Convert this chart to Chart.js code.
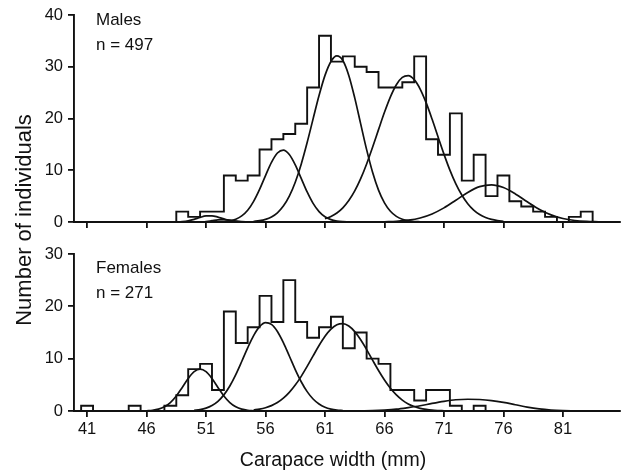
<!DOCTYPE html>
<html>
<head>
<meta charset="utf-8">
<title>Carapace width frequencies</title>
<script src="https://cdn.jsdelivr.net/npm/chart.js@4.4.1/dist/chart.umd.min.js"></script>
<style>
  html, body { margin: 0; padding: 0; background: #fff; }
  #wrap { position: relative; width: 624px; height: 474px; }
  #wrap canvas { position: absolute; left: 0; top: 0; }
</style>
</head>
<body>
<div id="wrap">
  <canvas id="chart-males" width="624" height="474"></canvas>
  <canvas id="chart-females" width="624" height="474"></canvas>
</div>
<script>
/* ---------- data ---------- */
// 1 mm bins, centred on whole millimetres 40..85
const binMm = [40,41,42,43,44,45,46,47,48,49,50,51,52,53,54,55,56,57,58,59,60,61,62,
               63,64,65,66,67,68,69,70,71,72,73,74,75,76,77,78,79,80,81,82,83,84,85];
const maleCounts = [0,0,0,0,0,0,0,0,0,2,1,2,2,9,8,9,14,16,17,19,26,36,31,
                    32,30,29,26,26,27,32,16,13,21,8,13,5,9,4,3,2,1,0,1,2,0,0];
const femaleCounts = [0,1,0,0,0,1,0,0,1,3,8,9,4,19,13,16,22,17,25,17,14,16,18,
                      12,15,10,9,4,4,2,4,4,1,0,1,0,0,0,0,0,0,0,0,0,0,0];
const xTicks = [41,46,51,56,61,66,71,76,81];

// fitted normal components, [mm, count] pairs
const maleFitA = [[48,0],[48.5,0.03],[49,0.09],[49.5,0.24],[50,0.52],[50.5,0.89],[51,1.17],[51.5,1.2],
                  [52,0.95],[52.5,0.6],[53,0.29],[53.5,0.11],[54,0.04],[54.5,0]];
const maleFitB = [[50.5,0],[51,0.1],[51.5,0.25],[52,0.4],[52.5,0.45],[53,0.35],[53.5,0.18],[54,0.06],[54.5,0]];
const maleFit1 = [[52,0.03],[52.5,0.08],[53,0.23],[53.5,0.54],[54,1.17],[54.5,2.27],[55,3.99],[55.5,6.3],
                  [56,8.97],[56.5,11.52],[57,13.33],[57.5,13.9],[58,13.05],[58.5,11.05],[59,8.43],[59.5,5.8],
                  [60,3.59],[60.5,2.01],[61,1.01],[61.5,0.46],[62,0.19],[62.5,0.07],[63,0.02]];
const maleFit2 = [[55,0.11],[55.5,0.25],[56,0.51],[56.5,0.98],[57,1.78],[57.5,3.07],[58,5.0],[58.5,7.69],
                  [59,11.18],[59.5,15.36],[60,19.93],[60.5,24.44],[61,28.33],[61.5,31.02],[62,32.1],
                  [62.5,31.21],[63,28.33],[63.5,23.99],[64,18.96],[64.5,13.98],[65,9.62],[65.5,6.17],
                  [66,3.7],[66.5,2.07],[67,1.08],[67.5,0.52],[68,0.24],[68.5,0.1],[69,0.04]];
const maleFit3 = [[61,0.63],[61.5,1.07],[62,1.75],[62.5,2.74],[63,4.15],[63.5,6.01],[64,8.38],[64.5,11.22],
                  [65,14.44],[65.5,17.85],[66,21.2],[66.5,24.19],[67,26.53],[67.5,27.94],[68,28.28],
                  [68.5,27.5],[69,25.69],[69.5,23.06],[70,19.89],[70.5,16.48],[71,13.12],[71.5,10.03],
                  [72,7.37],[72.5,5.21],[73,3.53],[73.5,2.3],[74,1.44],[74.5,0.87],[75,0.5],[75.5,0.28],[76,0.15]];
const maleFit4 = [[66,0.05],[67,0.13],[68,0.35],[69,0.78],[70,1.56],[71,2.73],[72,4.21],[73,5.72],[74,6.84],
                  [75,7.19],[76,6.66],[77,5.43],[78,3.9],[79,2.46],[80,1.37],[81,0.67],[82,0.29],[83,0.11],[84,0.04]];

const femaleFit1 = [[46,0.05],[46.5,0.13],[47,0.35],[47.5,0.81],[48,1.62],[48.5,2.88],[49,4.51],[49.5,6.2],
                    [50,7.51],[50.5,8.0],[51,7.51],[51.5,6.2],[52,4.51],[52.5,2.88],[53,1.62],[53.5,0.81],
                    [54,0.35],[54.5,0.13],[55,0.05]];
const femaleFit2 = [[50,0.13],[50.5,0.27],[51,0.55],[51.5,1.05],[52,1.85],[52.5,3.08],[53,4.78],[53.5,6.95],
                    [54,9.46],[54.5,12.07],[55,14.41],[55.5,16.12],[56,16.88],[56.5,16.55],[57,15.19],
                    [57.5,13.06],[58,10.51],[58.5,7.92],[59,5.59],[59.5,3.7],[60,2.29],[60.5,1.33],[61,0.72],
                    [61.5,0.37],[62,0.17],[62.5,0.08]];
const femaleFit3 = [[55,0.21],[55.5,0.37],[56,0.63],[56.5,1.03],[57,1.62],[57.5,2.45],[58,3.55],[58.5,4.95],
                    [59,6.62],[59.5,8.52],[60,10.53],[60.5,12.51],[61,14.28],[61.5,15.65],[62,16.49],
                    [62.5,16.69],[63,16.23],[63.5,15.16],[64,13.61],[64.5,11.74],[65,9.72],[65.5,7.74],
                    [66,5.92],[66.5,4.35],[67,3.07],[67.5,2.08],[68,1.36],[68.5,0.85],[69,0.51],[69.5,0.3],
                    [70,0.16],[70.5,0.09],[71,0.05]];
const femaleFit4 = [[64,0.03],[65,0.08],[66,0.18],[67,0.35],[68,0.65],[69,1.0],[70,1.45],[71,1.85],[72,2.15],
                    [73,2.25],[74,2.2],[75,2.0],[76,1.65],[77,1.2],[78,0.75],[79,0.4],[80,0.18],[81,0.06],[82,0]];

/* ---------- helpers ---------- */
const FONT = '"Liberation Sans", Arial, Helvetica, sans-serif';
const INK = "#111";

function histSet(counts){
  return {
    data: binMm.map((x,i)=>({ x, y: counts[i] })),
    stepped: "middle",
    borderColor: INK, borderWidth: 1.9,
    pointRadius: 0, fill: false
  };
}
function fitSet(pairs){
  return {
    data: pairs.map(([x,y])=>({ x, y })),
    cubicInterpolationMode: "monotone",
    borderColor: INK, borderWidth: 1.7,
    pointRadius: 0, fill: false
  };
}

// text drawn on the canvas (panel notes, shared axis titles)
const notesPlugin = {
  id: "notes",
  afterDraw(chart, args, o){
    const c = chart.ctx;
    c.save();
    c.fillStyle = INK;
    c.textBaseline = "alphabetic";
    (o.items || []).forEach(t=>{
      c.save();
      c.font = t.font;
      c.textAlign = t.align || "left";
      c.translate(t.x, t.y);
      if (t.rot) c.rotate(t.rot);
      c.fillText(t.text, 0, 0);
      c.restore();
    });
    c.restore();
  }
};

function makePanel(canvasId, counts, fits, yMax, cfg){
  const ctx = document.getElementById(canvasId).getContext("2d");
  return new Chart(ctx, {
    type: "line",
    data: { datasets: [histSet(counts), ...fits.map(fitSet)] },
    plugins: [notesPlugin],
    options: {
      responsive: false,
      animation: false,
      events: [],
      layout: { padding: { left: 0, right: 4, top: cfg.top, bottom: 0 } },
      plugins: {
        legend: { display: false },
        tooltip: { enabled: false },
        notes: { items: cfg.notes }
      },
      scales: {
        x: {
          type: "linear",
          min: 39.9, max: 85.8,
          afterBuildTicks: s => { s.ticks = xTicks.map(v=>({ value: v })); },
          afterFit: s => { s.height = cfg.xHeight; },
          ticks: {
            display: cfg.showX,
            autoSkip: false, maxRotation: 0,
            color: INK, padding: 3,
            font: { family: FONT, size: 16.5 }
          },
          grid: { display: true, drawOnChartArea: false, drawTicks: true, tickLength: 6, color: INK, lineWidth: 1.8 },
          border: { display: true, color: INK, width: 1.9 }
        },
        y: {
          min: 0, max: yMax,
          afterFit: s => { s.width = 74; },
          ticks: { stepSize: 10, color: INK, padding: 5, font: { family: FONT, size: 16.5 } },
          grid: { display: true, drawOnChartArea: false, drawTicks: true, tickLength: 6, color: INK, lineWidth: 1.8 },
          border: { display: true, color: INK, width: 1.9 }
        }
      }
    }
  });
}

/* ---------- panels ---------- */
makePanel("chart-males", maleCounts,
  [maleFitA, maleFitB, maleFit1, maleFit2, maleFit3, maleFit4], 40, {
    top: 15, xHeight: 252, showX: false,
    notes: [
      { text: "Males",   x: 96, y: 25, font: `17px ${FONT}` },
      { text: "n = 497", x: 96, y: 50, font: `17px ${FONT}` },
      { text: "Number of individuals", x: 31, y: 220, rot: -Math.PI/2, align: "center", font: `22px ${FONT}` }
    ]
  });

makePanel("chart-females", femaleCounts,
  [femaleFit1, femaleFit2, femaleFit3, femaleFit4], 30, {
    top: 254, xHeight: 63, showX: true,
    notes: [
      { text: "Females", x: 96, y: 273, font: `17px ${FONT}` },
      { text: "n = 271", x: 96, y: 298, font: `17px ${FONT}` },
      { text: "Carapace width (mm)", x: 333, y: 466, align: "center", font: `19.5px ${FONT}` }
    ]
  });
</script>
</body>
</html>
